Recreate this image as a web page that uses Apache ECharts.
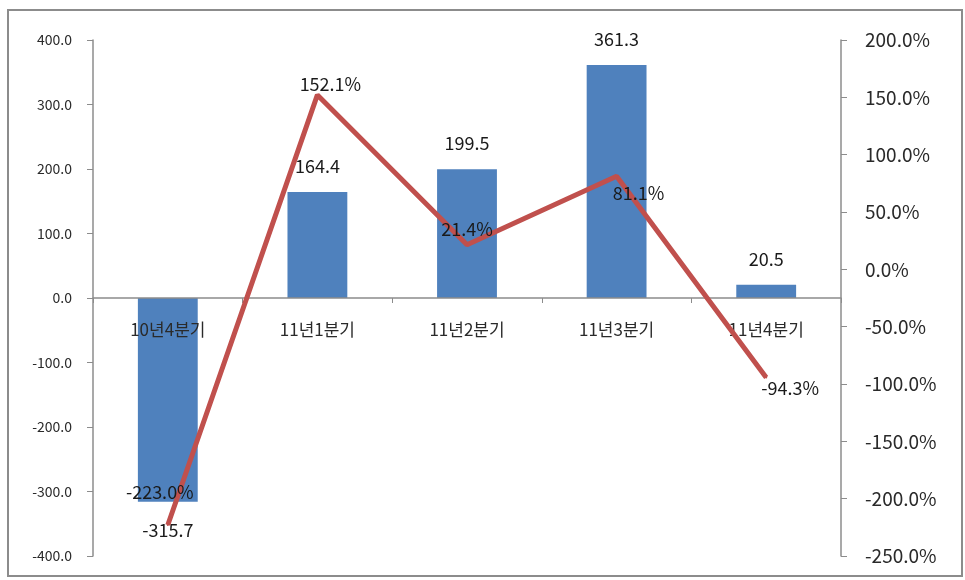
<!DOCTYPE html>
<html><head><meta charset="utf-8">
<script src="https://cdn.jsdelivr.net/npm/echarts@6/dist/echarts.min.js"></script>
<style>html,body{margin:0;padding:0;background:#fff}#c{width:965px;height:580px}</style>
</head><body><div id="c"></div>
<script>
const categories = ['10년4분기','11년1분기','11년2분기','11년3분기','11년4분기'];
const barValues = [-315.7, 164.4, 199.5, 361.3, 20.5];
const rateValues = [-223.0, 152.1, 21.4, 81.1, -94.3];
const leftTicks = {min:-400, max:400, interval:100};
const rightTicks = {min:-250, max:200, interval:50};

const font = '"Noto Sans CJK KR", "Noto Sans", sans-serif';
// label centre offsets from the line points
const lineLabelOffsets = [[-8,-33],[13,-11],[0,-16],[22,17],[24,11]];
const chart = echarts.init(document.getElementById('c'));
chart.setOption({
  animation:false,
  textStyle:{fontFamily:font},
  graphic:[{type:'rect', shape:{x:8,y:10,width:954,height:566}, style:{fill:'none', stroke:'#8c8c8c', lineWidth:2}, z:-1}],
  grid:{left:93, right:124, top:40, bottom:24, containLabel:false, outerBoundsMode:'none'},
  xAxis:{type:'category', data:categories, z:5,
    axisLine:{onZero:true, lineStyle:{color:'#8c8c8c', width:1.5}},
    axisTick:{show:true, length:5, lineStyle:{color:'#8c8c8c'}},
    axisLabel:{fontSize:17, color:'#2a2a2a', margin:-226, verticalAlign:'middle', fontFamily:font}},
  yAxis:[
    {type:'value', min:leftTicks.min, max:leftTicks.max, interval:leftTicks.interval,
     axisLine:{show:true, lineStyle:{color:'#8c8c8c', width:1.5}},
     axisTick:{show:true, length:6, lineStyle:{color:'#8c8c8c'}},
     splitLine:{show:false},
     axisLabel:{fontSize:14, color:'#2a2a2a', margin:21, formatter:v=>v.toFixed(1)}},
    {type:'value', min:rightTicks.min, max:rightTicks.max, interval:rightTicks.interval,
     axisLine:{show:true, lineStyle:{color:'#8c8c8c', width:1.5}},
     axisTick:{show:true, length:6, lineStyle:{color:'#8c8c8c'}},
     splitLine:{show:false},
     axisLabel:{fontSize:19, color:'#2a2a2a', margin:24, formatter:v=>v.toFixed(1)+'%'}}
  ],
  series:[
    {type:'bar', data:barValues.map(v=>({value:v, label:{position: v<0?'bottom':'top', distance: v<0?20:17}})),
     yAxisIndex:0, barCategoryGap:'60%',
     itemStyle:{color:'#4F81BD'},
     label:{show:true, fontSize:18, color:'#1a1a1a', formatter:p=>p.value.toFixed(1)}},
    {type:'line', data:rateValues.map((v,i)=>({value:v, label:{position:[1+lineLabelOffsets[i][0], 1+lineLabelOffsets[i][1]], align:'center', verticalAlign:'middle'}})),
     yAxisIndex:1, showSymbol:true, symbol:'circle', symbolSize:2,
     itemStyle:{color:'#C0504D', borderWidth:0},
     lineStyle:{color:'#C0504D', width:5},
     label:{show:true, fontSize:18, color:'#1a1a1a', formatter:p=>p.value.toFixed(1)+'%'},
     labelLayout:{hideOverlap:false}, z:6}
  ]
});
</script></body></html>
